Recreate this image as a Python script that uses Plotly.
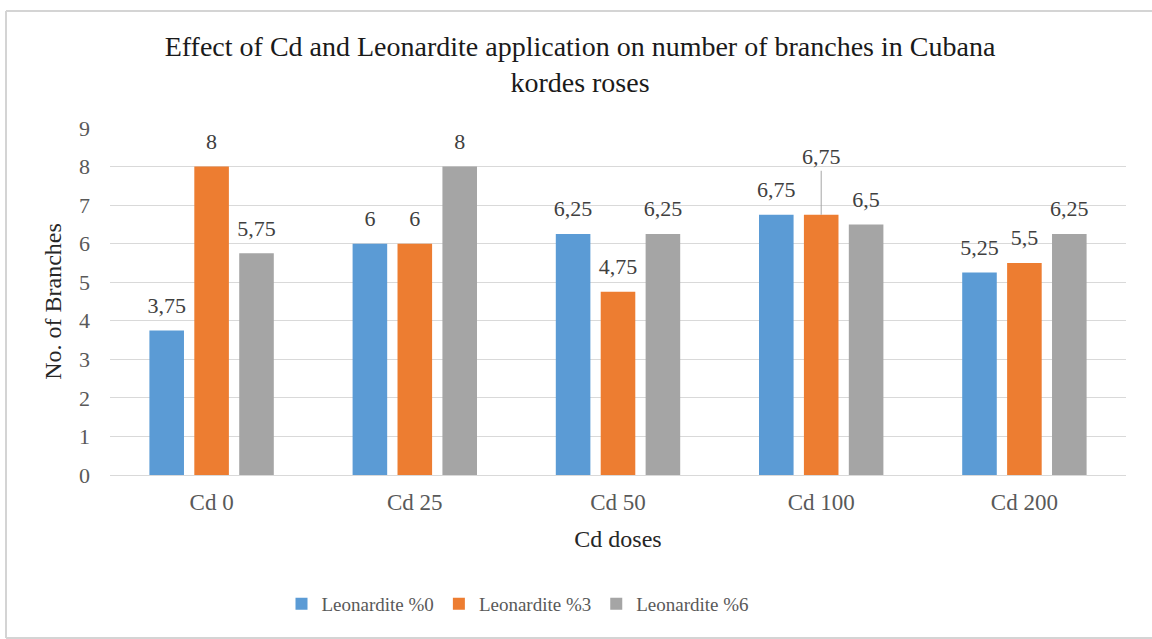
import plotly.graph_objects as go

categories = ["Cd 0", "Cd 25", "Cd 50", "Cd 100", "Cd 200"]
series_names = ["Leonardite %0", "Leonardite %3", "Leonardite %6"]
leo0 = [3.75, 6, 6.25, 6.75, 5.25]
leo3 = [8, 6, 4.75, 6.75, 5.5]
leo6 = [5.75, 8, 6.25, 6.5, 6.25]
colors = ["#5B9BD5", "#ED7D31", "#A5A5A5"]
y_ticks = [0, 1, 2, 3, 4, 5, 6, 7, 8, 9]

def fmt(v):
    return ("%g" % v).replace(".", ",")

W, H = 1152, 639
ml, mr, mt, mb = 110, 26, 128, 164
pw, ph = W - ml - mr, H - mt - mb

def px2x(px):
    return (px - ml) / pw

def py2y(py):
    return (H - mb - py) / ph

SERIF = "Liberation Serif"
GAP = 0.337

fig = go.Figure()
all_series = [leo0, leo3, leo6]
for i, (name, vals) in enumerate(zip(series_names, all_series)):
    fig.add_trace(go.Bar(
        x=categories, y=vals, name=name,
        marker=dict(color=colors[i], line=dict(width=0)),
        offsetgroup=str(i), alignmentgroup="a",
    ))
for i, (name, vals) in enumerate(zip(series_names, all_series)):
    texts = [fmt(v) for v in vals]
    if i == 1:
        texts[3] = ""  # drawn with a leader line below
    fig.add_trace(go.Scatter(
        x=categories, y=vals, mode="markers+text", text=texts,
        textposition="top center", showlegend=False, hoverinfo="skip",
        marker=dict(size=18, opacity=0, color=colors[i]),
        textfont=dict(family=SERIF, size=22, color="#404040"),
        offsetgroup=str(i), alignmentgroup="a", cliponaxis=False,
    ))

# leader-line label for Cd 100 / Leonardite %3
fig.add_annotation(
    x=categories[3], y=leo3[3], xref="x", yref="y",
    text=fmt(leo3[3]), showarrow=True, arrowhead=0, arrowwidth=1,
    arrowcolor="#A6A6A6", ax=0, ay=-58,
    font=dict(family=SERIF, size=22, color="#404040"),
)

# chart border (left, top, bottom edges visible in the frame)
border = dict(color="#D4D4D4", width=2)
x_left, x_right = px2x(6), px2x(1152)
y_top, y_bot = py2y(11), py2y(638)
fig.add_shape(type="line", xref="paper", yref="paper", x0=x_left, x1=x_left, y0=y_bot, y1=y_top, line=border)
fig.add_shape(type="line", xref="paper", yref="paper", x0=x_left, x1=x_right, y0=y_top, y1=y_top, line=border)
fig.add_shape(type="line", xref="paper", yref="paper", x0=x_left, x1=x_right, y0=y_bot, y1=y_bot, line=border)

fig.update_layout(
    width=W, height=H,
    margin=dict(l=ml, r=mr, t=mt, b=mb, autoexpand=False),
    paper_bgcolor="white", plot_bgcolor="white",
    barmode="group", bargap=GAP, bargroupgap=0.23,
    scattermode="group", scattergap=GAP,
    font=dict(family=SERIF, color="#595959"),
    title=dict(
        text="Effect of Cd and Leonardite application on number of branches in Cubana<br>kordes roses",
        x=580 / W, xanchor="center", xref="container",
        y=1 - 56 / H, yanchor="middle", yref="container",
        font=dict(family=SERIF, size=28, color="#1a1a1a"),
    ),
    xaxis=dict(
        showgrid=False, showline=True, linecolor="#D9D9D9", linewidth=1,
        ticks="", tickfont=dict(family=SERIF, size=23, color="#595959"),
        ticklabelstandoff=6,
        title=dict(text="Cd doses", font=dict(family=SERIF, size=24, color="#262626"), standoff=16),
    ),
    yaxis=dict(
        range=[0, 9], tickvals=y_ticks, showgrid=True, gridcolor="#D9D9D9", gridwidth=1,
        zeroline=False, showline=False, ticks="",
        tickfont=dict(family=SERIF, size=22, color="#595959"),
        ticklabelstandoff=19,
        title=dict(text="No. of Branches", font=dict(family=SERIF, size=24, color="#262626"), standoff=10),
    ),
    legend=dict(
        orientation="h", x=px2x(518), xanchor="center", y=py2y(604), yanchor="middle",
        font=dict(family=SERIF, size=19, color="#595959"),
        itemwidth=30, tracegroupgap=0,
    ),
    showlegend=True,
)

fig.write_html("out.html", config={"displayModeBar": False},
               post_script="document.body.style.margin='0px';document.body.style.overflow='hidden';")
